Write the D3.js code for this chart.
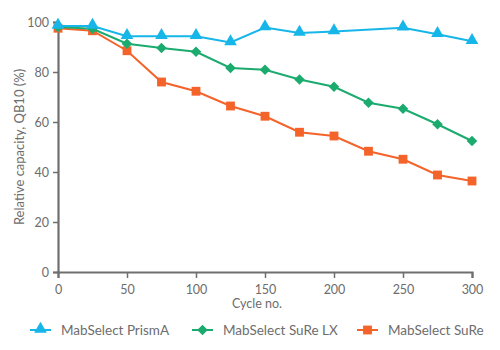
<!DOCTYPE html>
<html>
<head>
<meta charset="utf-8">
<script src="https://cdn.jsdelivr.net/npm/d3@7"></script>
<style>
  body { margin: 0; background: #fff; }
  text { font-family: Lato, "Open Sans", sans-serif; fill: #6d6d6d; }
</style>
</head>
<body>
<script>
var width = 500, height = 350;
var margin = { top: 22, right: 28, bottom: 78, left: 58 };

// data
var cyclesPrismA = [0, 25, 50, 75, 100, 125, 150, 175, 200, 250, 275, 300];
var prismA = [98.4, 98.4, 94.3, 94.3, 94.3, 91.8, 97.8, 95.6, 96.2, 97.7, 95.1, 92.3];
var cycles = [0, 25, 50, 75, 100, 125, 150, 175, 200, 225, 250, 275, 300];
var sureLX = [98, 97.3, 91.3, 89.6, 88.1, 81.6, 80.9, 77, 74.1, 67.7, 65.3, 59.1, 52.4];
var sure = [97.5, 96.5, 88.5, 76, 72.3, 66.4, 62.3, 55.9, 54.4, 48.3, 45.1, 38.8, 36.4];
var xTicks = [0, 50, 100, 150, 200, 250, 300];
var yTicks = [0, 20, 40, 60, 80, 100];

var series = [
    { name: "MabSelect SuRe", x: cycles, y: sure, color: "#f4632a", symbol: d3.symbolSquare, size: 78, rot: 0, legendX: 357 },
    { name: "MabSelect SuRe LX", x: cycles, y: sureLX, color: "#1bab6f", symbol: d3.symbolSquare, size: 56, rot: 45, legendX: 192 },
    { name: "MabSelect PrismA", x: cyclesPrismA, y: prismA, color: "#17b6e9", symbol: d3.symbolTriangle, size: 70, rot: 0, legendX: 30 }
];

var svg = d3.select("body")
    .append("svg")
    .attr("width", width)
    .attr("height", height);

var g = svg.append("g")
    .attr("transform", "translate(" + margin.left + "," + margin.top + ")");

var w = width - margin.left - margin.right;
var h = height - margin.top - margin.bottom;

var x = d3.scaleLinear().domain([0, 300]).range([0, w]);
var y = d3.scaleLinear().domain([0, 100]).range([h, 0]);

// axes
var xAxis = g.append("g")
    .attr("transform", "translate(0," + h + ")")
    .call(d3.axisBottom(x).tickValues(xTicks).tickSizeOuter(0).tickSize(6).tickPadding(7));
var yAxis = g.append("g")
    .call(d3.axisLeft(y).tickValues(yTicks).tickSizeOuter(0).tickSize(5).tickPadding(4));

[xAxis, yAxis].forEach(function (a) {
    a.select(".domain").attr("stroke", "#6f6f6f").attr("stroke-width", 2.2);
    a.selectAll(".tick line").attr("stroke", "#6f6f6f").attr("stroke-width", 1.5);
    a.selectAll(".tick text").style("font-size", "12.5px").attr("fill", "#6d6d6d");
});

// axis titles
g.append("text")
    .attr("x", w / 2 - 8)
    .attr("y", h + 36)
    .attr("text-anchor", "middle")
    .style("font-size", "12.5px")
    .text("Cycle no.");

g.append("text")
    .attr("transform", "translate(" + (-34) + "," + (h / 2) + ") rotate(-90)")
    .attr("text-anchor", "middle")
    .style("font-size", "13px")
    .text("Relative capacity, QB10 (%)");

// lines and markers
var line = d3.line()
    .x(function (d) { return x(d[0]); })
    .y(function (d) { return y(d[1]); });

function markerTransform(s, px, py) {
    var dy = s.symbol === d3.symbolTriangle ? -1 : 0;
    return "translate(" + px + "," + (py + dy) + ") rotate(" + s.rot + ")";
}

series.forEach(function (s) {
    var pts = s.x.map(function (c, i) { return [c, s.y[i]]; });
    g.append("path")
        .datum(pts)
        .attr("d", line)
        .attr("fill", "none")
        .attr("stroke", s.color)
        .attr("stroke-width", 2);
    g.selectAll(null)
        .data(pts)
        .enter()
        .append("path")
        .attr("d", d3.symbol().type(s.symbol).size(s.size))
        .attr("transform", function (d) { return markerTransform(s, x(d[0]), y(d[1])); })
        .attr("fill", s.color);
});

// legend
var legend = svg.append("g").attr("transform", "translate(0,330)");
series.forEach(function (s) {
    var lg = legend.append("g").attr("transform", "translate(" + s.legendX + ",0)");
    lg.append("line")
        .attr("x1", 0).attr("x2", 21)
        .attr("stroke", s.color).attr("stroke-width", 2);
    lg.append("path")
        .attr("d", d3.symbol().type(s.symbol).size(s.size))
        .attr("transform", markerTransform(s, 10.5, 0))
        .attr("fill", s.color);
    lg.append("text")
        .attr("x", 31)
        .attr("dy", "0.35em")
        .style("font-size", "13.5px")
        .text(s.name);
});
</script>
</body>
</html>
